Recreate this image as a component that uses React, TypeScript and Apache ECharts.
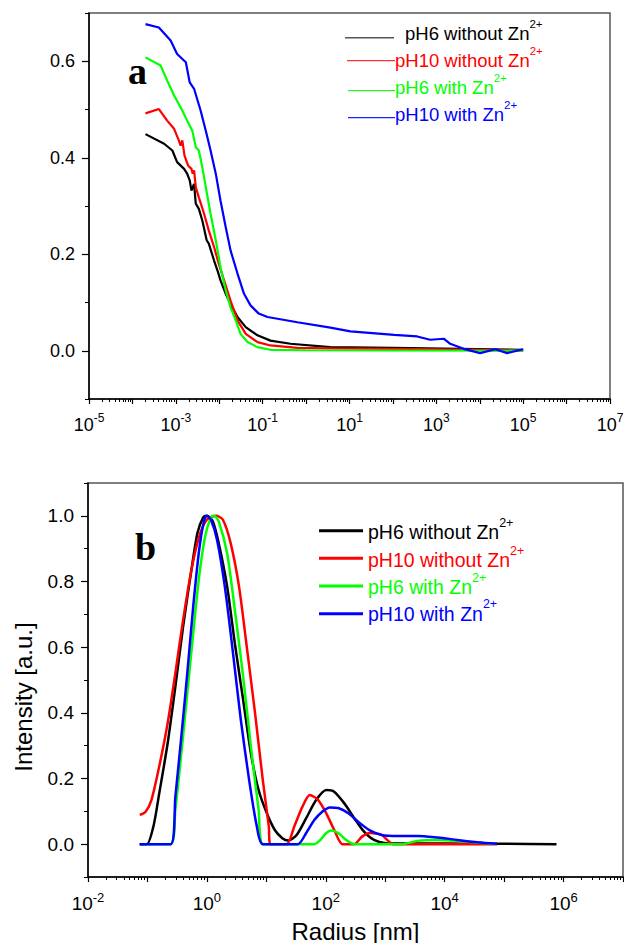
import React, { useEffect, useRef } from 'react';
import * as echarts from 'echarts';

type Pt = [number, number];

// ---------- names / colours ----------
const SERIES_NAMES = ['pH6 without Zn', 'pH10 without Zn', 'pH6 with Zn', 'pH10 with Zn'];
const SERIES_SUP = '2+';
const COLORS = ['#000000', '#ff0000', '#00ff00', '#0000ff'];
const PANEL_LABELS = ['a', 'b'];
const X_NAME_B = 'Radius [nm]';
const Y_NAME_B = 'Intensity [a.u.]';

// ---------- axis ticks ----------
const A_X_MAJOR = [1e-5, 1e-4, 1e-3, 1e-2, 1e-1, 1, 10, 100, 1e3, 1e4, 1e5, 1e6, 1e7];
const A_X_LABELED = [1e-5, 1e-3, 1e-1, 10, 1e3, 1e5, 1e7];
const A_Y_LABELS = [0, 0.2, 0.4, 0.6];
const A_Y_MINOR = [-0.1, 0.1, 0.3, 0.5, 0.7];

const B_X_MAJOR = [1e-2, 1e-1, 1, 10, 100, 1e3, 1e4, 1e5, 1e6, 1e7];
const B_X_LABELED = [1e-2, 1, 100, 1e4, 1e6];
const B_Y_LABELS = [0, 0.2, 0.4, 0.6, 0.8, 1.0];
const B_Y_MINOR = [-0.1, 0.1, 0.3, 0.5, 0.7, 0.9, 1.1];

const MINOR_MANTISSAS = [2, 3, 4, 5, 6, 7, 8, 9];

// ---------- panel a data ----------
const aBlack: Pt[] = [
  [2.0e-4, 0.449], [5.37e-4, 0.429], [8.32e-4, 0.415], [1.07e-3, 0.391], [1.55e-3, 0.377],
  [1.82e-3, 0.367], [2.09e-3, 0.353], [2.29e-3, 0.332], [2.63e-3, 0.346], [2.88e-3, 0.305],
  [3.39e-3, 0.294], [4.07e-3, 0.27], [5.13e-3, 0.229], [5.75e-3, 0.222], [7.59e-3, 0.187],
  [9.12e-3, 0.166], [1.07e-2, 0.146], [1.41e-2, 0.118], [1.82e-2, 0.097], [2.63e-2, 0.07],
  [4.07e-2, 0.049], [7.59e-2, 0.032], [0.151, 0.021], [0.437, 0.0145], [3.63, 0.0075],
  [100, 0.006], [3548, 0.004], [1e5, 0.002],
];
const aRed: Pt[] = [
  [2.0e-4, 0.492], [4.07e-4, 0.501], [6.31e-4, 0.477], [9.12e-4, 0.46], [1.17e-3, 0.436],
  [1.29e-3, 0.425], [1.41e-3, 0.436], [1.58e-3, 0.405], [1.91e-3, 0.384], [2.29e-3, 0.377],
  [2.45e-3, 0.367], [2.63e-3, 0.374], [2.88e-3, 0.339], [3.39e-3, 0.318], [4.47e-3, 0.284],
  [5.75e-3, 0.249], [7.59e-3, 0.215], [9.77e-3, 0.18], [1.29e-2, 0.146], [1.82e-2, 0.104],
  [2.63e-2, 0.063], [4.07e-2, 0.035], [7.59e-2, 0.018], [0.151, 0.011], [0.631, 0.006],
  [3.63, 0.005], [100, 0.004], [1e4, 0.002], [1e5, 0.0],
];
const aGreen: Pt[] = [
  [2.0e-4, 0.608], [4.47e-4, 0.591], [6.31e-4, 0.56], [9.12e-4, 0.529], [1.41e-3, 0.498],
  [1.82e-3, 0.477], [2.4e-3, 0.456], [2.88e-3, 0.422], [3.39e-3, 0.415], [4.07e-3, 0.38],
  [4.9e-3, 0.339], [6.31e-3, 0.284], [8.32e-3, 0.229], [1.07e-2, 0.173], [1.41e-2, 0.125],
  [1.82e-2, 0.09], [2.4e-2, 0.063], [3.09e-2, 0.035], [4.47e-2, 0.018], [7.59e-2, 0.0075],
  [0.151, 0.002], [1, 0.001], [100, 0.0005], [1e5, 0.0],
];
const aBlue: Pt[] = [
  [2.0e-4, 0.677], [4.07e-4, 0.67], [7.59e-4, 0.643], [1.07e-3, 0.615], [1.7e-3, 0.598],
  [2.09e-3, 0.556], [2.63e-3, 0.543], [3.72e-3, 0.498], [4.9e-3, 0.456], [6.31e-3, 0.415],
  [8.32e-3, 0.367], [1.07e-2, 0.311], [1.41e-2, 0.256], [1.82e-2, 0.208], [2.63e-2, 0.16],
  [3.72e-2, 0.118], [5.25e-2, 0.094], [8.13e-2, 0.077], [0.129, 0.07], [0.631, 0.059],
  [3.63, 0.048], [10.5, 0.04], [107, 0.033], [363, 0.0296], [724, 0.0228], [1479, 0.0249],
  [2089, 0.0145], [4266, 0.004], [1.02e4, -0.005], [2.29e4, 0.003], [4.27e4, -0.005], [1e5, 0.003],
];

// ---------- panel b data ----------
const bBlack: Pt[] = [
  [0.0741, 0], [0.0977, 0], [0.126, 0.054], [0.158, 0.155], [0.219, 0.308], [0.295, 0.48],
  [0.398, 0.663], [0.55, 0.836], [0.692, 0.947], [0.871, 0.996], [1.0, 1.0], [1.26, 0.983],
  [1.58, 0.917], [2.19, 0.785], [2.95, 0.612], [4.07, 0.44], [5.5, 0.277], [7.41, 0.165],
  [10.2, 0.094], [13.8, 0.044], [18.6, 0.018], [23.4, 0.011], [32.4, 0.028], [46.8, 0.079],
  [69.2, 0.135], [102, 0.165], [138, 0.16], [204, 0.125], [302, 0.079], [437, 0.039],
  [646, 0.013], [1023, 0.003], [1622, 0.002], [1e4, 0.002], [1e5, 0.001], [7.6e5, 0],
];
const bRed: Pt[] = [
  [0.0741, 0.089], [0.0933, 0.099], [0.117, 0.135], [0.158, 0.237], [0.219, 0.369],
  [0.295, 0.521], [0.398, 0.683], [0.55, 0.836], [0.741, 0.937], [1.0, 0.988], [1.45, 1.0],
  [1.86, 0.988], [2.51, 0.917], [3.47, 0.785], [4.68, 0.602], [6.46, 0.399], [8.71, 0.196],
  [11.0, 0.054], [11.7, 0], [21.9, 0], [29.5, 0.054], [40.7, 0.115], [53.7, 0.15],
  [74.1, 0.135], [102, 0.094], [138, 0.044], [191, 0], [302, 0], [407, 0.023], [550, 0.034],
  [871, 0.028], [1380, 0], [7.6e4, 0],
];
const bGreen: Pt[] = [
  [0.0741, 0], [0.245, 0], [0.295, 0.105], [0.372, 0.277], [0.468, 0.46], [0.589, 0.643],
  [0.741, 0.815], [0.933, 0.937], [1.17, 0.996], [1.32, 1.0], [1.58, 0.983], [2.19, 0.886],
  [2.95, 0.714], [4.07, 0.511], [5.5, 0.297], [7.41, 0.105], [8.91, 0], [64.6, 0],
  [81.3, 0.013], [102, 0.034], [123, 0.042], [162, 0.034], [219, 0.013], [302, 0],
  [1905, 0], [3467, 0.01], [7586, 0.013], [1.62e4, 0.01], [3.55e4, 0.005], [7.6e4, 0.001],
];
const bBlue: Pt[] = [
  [0.0741, 0], [0.245, 0], [0.295, 0.145], [0.372, 0.328], [0.468, 0.521], [0.589, 0.724],
  [0.741, 0.896], [0.891, 0.983], [1.0, 1.0], [1.17, 0.988], [1.48, 0.927], [2.0, 0.785],
  [2.75, 0.582], [3.72, 0.379], [5.13, 0.196], [6.92, 0.054], [8.71, 0], [33.9, 0],
  [46.8, 0.034], [64.6, 0.074], [87.1, 0.099], [117, 0.112], [162, 0.11], [240, 0.094],
  [347, 0.069], [550, 0.042], [871, 0.028], [1622, 0.025], [3467, 0.025], [7586, 0.02],
  [1.62e4, 0.013], [3.55e4, 0.006], [7.6e4, 0.001],
];

const A_DATA = [aBlack, aRed, aGreen, aBlue];
const B_DATA = [bBlack, bRed, bGreen, bBlue];

const FONT = "'Liberation Sans', Arial, sans-serif";
const SERIF = "'Liberation Serif', 'Times New Roman', serif";

function minorTicks(major: number[]): number[] {
  const out: number[] = [];
  for (let i = 0; i < major.length - 1; i++) {
    for (const m of MINOR_MANTISSAS) out.push(major[i] * m);
  }
  return out;
}

function expFormatter(labeled: number[]) {
  const exps = labeled.map((v) => Math.round(Math.log10(v)));
  return (v: number) => {
    const e = Math.round(Math.log10(v));
    return exps.includes(e) ? `10{sup|${e}}` : '';
  };
}

const axisLineStyle = { color: '#000', width: 1.5 };

function logXAxes(gridIndex: number, min: number, max: number, major: number[], labeled: number[], fontSize: number, supPad: number, margin: number) {
  const supSize = fontSize - 6;
  return [
    {
      type: 'log', logBase: 10, gridIndex, min, max, splitNumber: major.length - 1,
      position: 'bottom',
      axisLine: { show: true, onZero: false, lineStyle: axisLineStyle },
      axisTick: { show: true, inside: false, length: 5, customValues: major, lineStyle: { color: '#000', width: 1.2 } },
      axisLabel: {
        show: true, customValues: labeled, formatter: expFormatter(labeled), margin,
        color: '#000', fontSize, fontFamily: FONT,
        rich: { sup: { fontSize: supSize, color: '#000', fontFamily: FONT, padding: [0, 0, supPad, 0] } },
      },
      splitLine: { show: false },
      minorTick: { show: false },
    },
    {
      type: 'log', logBase: 10, gridIndex, min, max, splitNumber: major.length - 1,
      position: 'bottom',
      axisLine: { show: false, onZero: false },
      axisTick: { show: true, inside: false, length: 3, customValues: minorTicks(major), lineStyle: { color: '#000', width: 1 } },
      axisLabel: { show: false },
      splitLine: { show: false },
    },
  ];
}

function yAxes(gridIndex: number, min: number, max: number, labels: number[], minor: number[], fontSize: number) {
  return [
    {
      type: 'value', gridIndex, min, max, position: 'left',
      axisLine: { show: true, onZero: false, lineStyle: axisLineStyle },
      axisTick: { show: true, inside: false, length: 7, customValues: labels, lineStyle: { color: '#000', width: 1.2 } },
      axisLabel: {
        show: true, customValues: labels, formatter: (v: number) => v.toFixed(1), margin: 14,
        color: '#000', fontSize, fontFamily: FONT,
      },
      splitLine: { show: false },
    },
    {
      type: 'value', gridIndex, min, max, position: 'left',
      axisLine: { show: false, onZero: false },
      axisTick: { show: true, inside: false, length: 4, customValues: minor, lineStyle: { color: '#000', width: 1 } },
      axisLabel: { show: false },
      splitLine: { show: false },
    },
  ];
}

function legendGraphics(
  lines: { x1: number; x2: number; y: number; w: number; color: string }[],
  texts: { x: number; y: number }[],
  fontSize: number,
) {
  const els: any[] = [];
  SERIES_NAMES.forEach((name, i) => {
    const l = lines[i];
    els.push({
      type: 'line', silent: true, z: 10,
      shape: { x1: l.x1, y1: l.y, x2: l.x2, y2: l.y },
      style: { stroke: l.color, lineWidth: l.w },
    });
    const t = texts[i];
    els.push({
      type: 'text', silent: true, z: 10, x: t.x, y: t.y,
      style: {
        text: `${name}{sup|${SERIES_SUP}}`,
        fill: COLORS[i], fontSize, fontFamily: FONT,
        align: 'left', verticalAlign: 'middle',
        rich: { sup: { fontSize: fontSize - 7, fill: COLORS[i], color: COLORS[i], fontFamily: FONT, padding: [0, 0, 19, 0] } },
      },
    });
  });
  return els;
}

export default function App() {
  const ref = useRef<HTMLDivElement>(null);

  useEffect(() => {
    if (!ref.current) return;
    const chart = echarts.init(ref.current, undefined, { renderer: 'svg' });

    const series: any[] = [];
    A_DATA.forEach((d, i) => {
      series.push({
        type: 'line', name: SERIES_NAMES[i] + ' (a)', xAxisIndex: 0, yAxisIndex: 0, data: d,
        showSymbol: false, symbol: 'none', smooth: false,
        lineStyle: { color: COLORS[i], width: 2.2 }, itemStyle: { color: COLORS[i] }, z: 2 + i,
      });
    });
    B_DATA.forEach((d, i) => {
      series.push({
        type: 'line', name: SERIES_NAMES[i] + ' (b)', xAxisIndex: 2, yAxisIndex: 2, data: d,
        showSymbol: false, symbol: 'none', smooth: 0.25,
        lineStyle: { color: COLORS[i], width: 2.5 }, itemStyle: { color: COLORS[i] }, z: 2 + i,
      });
    });

    const graphic: any[] = [
      ...legendGraphics(
        [
          { x1: 345, x2: 394, y: 37.7, w: 1.5, color: '#555555' },
          { x1: 347, x2: 395, y: 60.7, w: 1.2, color: '#ff3030' },
          { x1: 348, x2: 395, y: 90.7, w: 1.2, color: '#30ee30' },
          { x1: 348, x2: 395, y: 117.7, w: 1.2, color: '#2020ff' },
        ],
        [{ x: 405, y: 33 }, { x: 395, y: 60 }, { x: 395, y: 87.5 }, { x: 395, y: 114.2 }],
        18.5,
      ),
      ...legendGraphics(
        [
          { x1: 319, x2: 363, y: 530.7, w: 3, color: COLORS[0] },
          { x1: 319, x2: 363, y: 558.3, w: 3, color: COLORS[1] },
          { x1: 319, x2: 363, y: 586, w: 3, color: COLORS[2] },
          { x1: 319, x2: 363, y: 613.7, w: 3, color: COLORS[3] },
        ],
        [{ x: 368, y: 532 }, { x: 368, y: 560 }, { x: 368, y: 587.3 }, { x: 368, y: 613.8 }],
        19.5,
      ),
      {
        type: 'text', silent: true, z: 10, x: 128, y: 70.5,
        style: { text: PANEL_LABELS[0], fill: '#000', fontSize: 38, fontWeight: 'bold', fontFamily: SERIF, align: 'left', verticalAlign: 'middle' },
      },
      {
        type: 'text', silent: true, z: 10, x: 135, y: 547,
        style: { text: PANEL_LABELS[1], fill: '#000', fontSize: 38, fontWeight: 'bold', fontFamily: SERIF, align: 'left', verticalAlign: 'middle' },
      },
      {
        type: 'text', silent: true, z: 10, x: 23, y: 697, rotation: Math.PI / 2,
        style: { text: Y_NAME_B, fill: '#000', fontSize: 24, fontFamily: FONT, align: 'center', verticalAlign: 'middle' },
      },
    ];

    const option: any = {
      animation: false,
      backgroundColor: '#ffffff',
      grid: [
        { left: 89, top: 13, width: 521, height: 386, show: true, borderColor: '#555', borderWidth: 1.5, backgroundColor: 'transparent', containLabel: false, outerBoundsMode: 'none' },
        { left: 88, top: 483, width: 535, height: 394, show: true, borderColor: '#555', borderWidth: 1.5, backgroundColor: 'transparent', containLabel: false, outerBoundsMode: 'none' },
      ],
      xAxis: [
        ...logXAxes(0, 1e-5, 1e7, A_X_MAJOR, A_X_LABELED, 18, 13, 13),
        ...logXAxes(1, 1e-2, 1e7, B_X_MAJOR, B_X_LABELED, 19, 11, 14).map((a, i) =>
          i === 0
            ? { ...a, name: X_NAME_B, nameLocation: 'middle', nameGap: 42, nameTextStyle: { color: '#000', fontSize: 24, fontFamily: FONT } }
            : a,
        ),
      ],
      yAxis: [
        ...yAxes(0, -0.1, 0.7, A_Y_LABELS, A_Y_MINOR, 18),
        ...yAxes(1, -0.1, 1.1, B_Y_LABELS, B_Y_MINOR, 19),
      ],
      series,
      graphic,
    };

    chart.setOption(option);
    return () => chart.dispose();
  }, []);

  return (
    <div
      ref={ref}
      style={{ position: 'absolute', left: 0, top: 0, width: 624, height: 943, background: '#fff' }}
    />
  );
}
